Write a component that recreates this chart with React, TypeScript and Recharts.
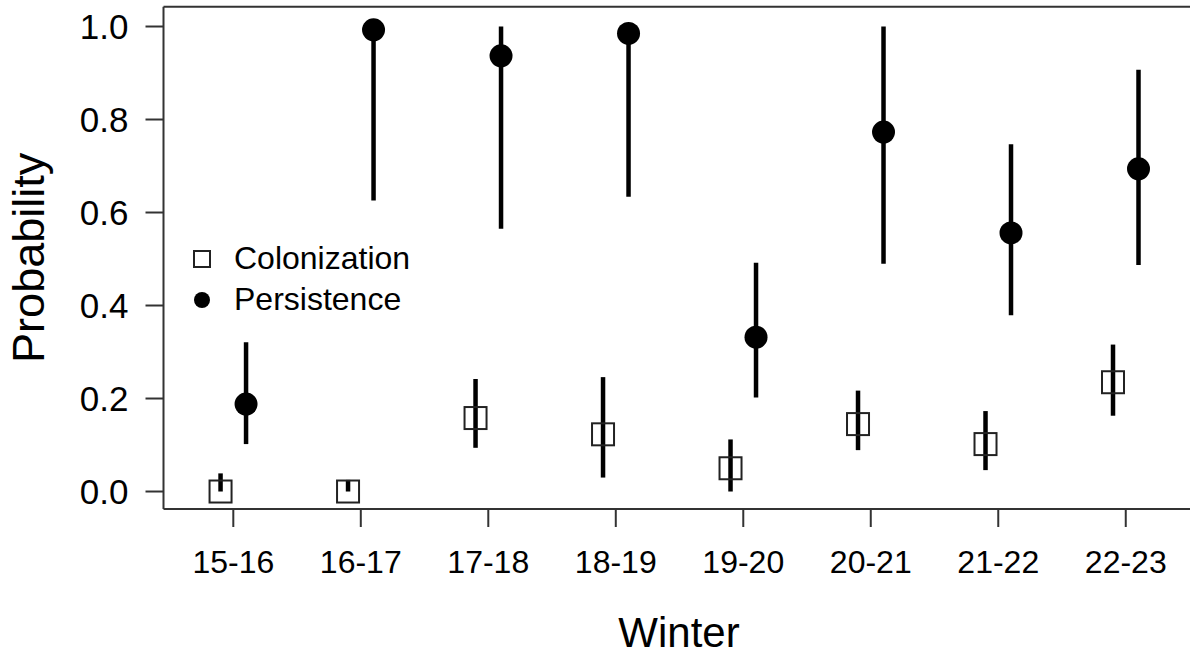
import { ComposedChart, Scatter, ErrorBar, XAxis, YAxis, ReferenceLine } from "recharts";

const winters = ["15-16", "16-17", "17-18", "18-19", "19-20", "20-21", "21-22", "22-23"];

const colonization = [0.0, 0.0, 0.158, 0.123, 0.05, 0.145, 0.102, 0.235];
const colonizationLower = [0.0, 0.0, 0.094, 0.03, 0.0, 0.089, 0.046, 0.163];
const colonizationUpper = [0.039, 0.025, 0.242, 0.246, 0.112, 0.217, 0.173, 0.316];

const persistence = [0.188, 0.993, 0.937, 0.985, 0.332, 0.773, 0.556, 0.694];
const persistenceLower = [0.102, 0.626, 0.565, 0.634, 0.202, 0.49, 0.379, 0.487];
const persistenceUpper = [0.321, 1.0, 1.0, 1.0, 0.492, 1.0, 0.747, 0.907];

const yTicks = [0, 0.2, 0.4, 0.6, 0.8, 1.0];
const xTicks = winters.map((_, i) => i + 1);

// side-by-side dodge so the two estimates don't overlap
const dodge = 0.1;
const yDomain: [number, number] = [-0.0376, 1.0426];
// plot box runs past the right edge of the picture
const xDomain: [number, number] = [0.4525, 8.7];

const build = (vals: number[], lo: number[], hi: number[], shift: number) =>
  vals.map((v, i) => ({ x: i + 1 + shift, y: v, err: [v - lo[i], hi[i] - v] }));

const colData = build(colonization, colonizationLower, colonizationUpper, -dodge);
const perData = build(persistence, persistenceLower, persistenceUpper, dodge);

const FONT = "'Liberation Sans', Arial, sans-serif";
const AXIS = "#333";

const OpenSquare = (props: any) => {
  const { cx, cy } = props;
  return <rect x={cx - 11} y={cy - 11} width={22} height={22} fill="none" stroke="#222" strokeWidth={2} />;
};

const FilledDot = (props: any) => {
  const { cx, cy } = props;
  return <circle cx={cx} cy={cy} r={11.5} fill="#000" />;
};

const YLabel = (props: any) => {
  const { viewBox } = props;
  const cx = 29;
  const cy = viewBox.y + viewBox.height / 2;
  return (
    <text x={cx} y={cy} transform={`rotate(-90 ${cx} ${cy})`} textAnchor="middle" dominantBaseline="central"
      fontFamily={FONT} fontSize={45} fill="#000">
      Probability
    </text>
  );
};

const XLabel = () => (
  <text x={679} y={647} textAnchor="middle" fontFamily={FONT} fontSize={42} fill="#000">
    Winter
  </text>
);

export default function App() {
  return (
    <div style={{ position: "fixed", inset: 0, overflow: "hidden", background: "#fff" }}>
      <ComposedChart width={1220} height={662} margin={{ top: 6.7, right: 5, bottom: 0, left: 0 }}>
        <XAxis
          xAxisId="bottom"
          dataKey="x"
          type="number"
          domain={xDomain}
          allowDataOverflow
          ticks={xTicks}
          tickFormatter={(v: number) => winters[v - 1]}
          interval={0}
          height={153}
          stroke={AXIS}
          strokeWidth={2}
          tickSize={18}
          tickMargin={23}
          tick={{ fill: "#000", fontSize: 32, fontFamily: FONT }}
          label={<XLabel />}
        />
        <YAxis
          dataKey="y"
          type="number"
          domain={yDomain}
          allowDataOverflow
          ticks={yTicks}
          tickFormatter={(v: number) => v.toFixed(1)}
          width={163.5}
          stroke={AXIS}
          strokeWidth={2}
          tickSize={18}
          tickMargin={17}
          tick={{ fill: "#000", fontSize: 35, fontFamily: FONT }}
          label={<YLabel />}
        />
        {/* top edge of the plot box */}
        <ReferenceLine xAxisId="bottom" y={yDomain[1]} stroke={AXIS} strokeWidth={2} />
        <Scatter xAxisId="bottom" data={colData} dataKey="y" shape={<OpenSquare />} isAnimationActive={false}>
          <ErrorBar dataKey="err" direction="y" width={0} stroke="#000" strokeWidth={4.5} isAnimationActive={false} />
        </Scatter>
        <Scatter xAxisId="bottom" data={perData} dataKey="y" shape={<FilledDot />} isAnimationActive={false}>
          <ErrorBar dataKey="err" direction="y" width={0} stroke="#000" strokeWidth={4.5} isAnimationActive={false} />
        </Scatter>
      </ComposedChart>
      <div style={{ position: "absolute", left: 192, top: 238, fontFamily: FONT, fontSize: 32, color: "#000", lineHeight: "41px" }}>
        <div style={{ display: "flex", alignItems: "center" }}>
          <svg width={20} height={20} style={{ marginRight: 22 }}>
            <rect x={2} y={2} width={16} height={16} fill="none" stroke="#222" strokeWidth={2} />
          </svg>
          <span>Colonization</span>
        </div>
        <div style={{ display: "flex", alignItems: "center" }}>
          <svg width={20} height={20} style={{ marginRight: 22 }}>
            <circle cx={10} cy={10} r={8} fill="#000" />
          </svg>
          <span>Persistence</span>
        </div>
      </div>
    </div>
  );
}
